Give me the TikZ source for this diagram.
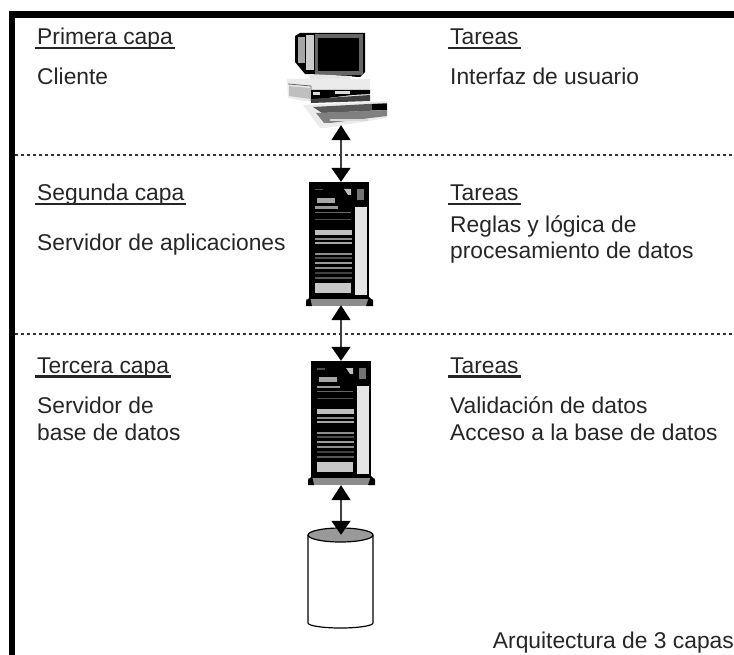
\documentclass[tikz,border=0pt]{standalone}
\usepackage{fontspec}
\setmainfont{Liberation Sans}
\usetikzlibrary{arrows.meta}
\newcommand{\capa}[1]{\setbox0\hbox{#1}\rlap{\kern-2pt\rule[-4.5pt]{\dimexpr\wd0+4pt\relax}{2.2pt}}\box0}
\tikzset{
  txt/.style={anchor=base west,inner sep=0pt,align=left,text=black!85,font=\fontsize{22.8}{26.5}\selectfont},
  sep/.style={line width=1.6pt,dash pattern=on 3pt off 3pt,black!80},
  link/.style={line width=1.6pt,black!75,{Triangle[width=19pt,length=15pt,black]}-{Triangle[width=19pt,length=14pt,black]}},
  pics/tower/.style={code={
    \fill[black] (0,0) rectangle (60,117);
    \fill[black!45] (-3,117) rectangle (64,124);
    \fill[black] (-3,124) -- (-3,119) -- (1,115) -- (3,124) -- cycle;
    \fill[black] (64,124) -- (64,119) -- (60,115) -- (57,124) -- cycle;
    \fill[black!10] (46,25) rectangle (58,113);
    \fill[black!55] (48,7) rectangle (55,18);
    \fill[black!70] (6,7) rectangle (14,8.5);
    \fill[black!25] (35,7) -- (42,7) -- (42,13) -- (39,13) -- cycle;
    \fill[black!35] (8,16) rectangle (26,21);
    \fill[black!40] (6,24.5) rectangle (29,27);
    \foreach \y/\c in {30/60,37/70}{\fill[black!\c] (6,\y) rectangle (42,\y+1);}
    \fill[black!25] (6,48) rectangle (43,53);
    \foreach \y/\c in {56/45,60/35,71/45,75/70,80/40,85/45,90/75,95/65}{\fill[black!\c] (6,\y) rectangle (43,\y+1.6);}
    \fill[black!22] (6,101) rectangle (42,111);
  }}
}
\begin{document}
\begin{tikzpicture}[x=1pt,y=-1pt]
\useasboundingbox (0,0) rectangle (734,655);
\fill[white] (0,0) rectangle (734,655);
% frame
\fill[black] (9,11) rectangle (734,18);
\fill[black] (9,11) rectangle (15,655);
% separators
\coordinate (s1l) at (15,155); \coordinate (s1r) at (734,155);
\coordinate (s2l) at (15,334); \coordinate (s2r) at (734,334);
\draw[sep] (s1l) -- (s1r);
\draw[sep] (s2l) -- (s2r);
% texts
\node[txt] (t1) at (37,45) {\capa{Primera capa}};
\node[txt] (t2) at (37,85) {Cliente};
\node[txt] (t3) at (450,45) {\capa{Tareas}};
\node[txt] (t4) at (450,85) {Interfaz de usuario};
\node[txt] (t5) at (37,201) {\capa{Segunda capa}};
\node[txt] (t6) at (37,251) {Servidor de aplicaciones};
\node[txt] (t7) at (450,201) {\capa{Tareas}};
\node[txt] (t8) at (450,259) {Reglas y lógica de\\procesamiento de datos};
\node[txt] (t9) at (37,373) {\capa{Tercera capa}};
\node[txt] (t10) at (37,440) {Servidor de\\base de datos};
\node[txt] (t11) at (450,373) {\capa{Tareas}};
\node[txt] (t12) at (450,440) {Validación de datos\\Acceso a la base de datos};
\node[txt,anchor=base east] (t13) at (734,648) {Arquitectura de 3 capas};
% computer
\begin{scope}
  \fill[black] (295,36) -- (300,33) -- (365,33) -- (365,72) -- (360,77) -- (305,74) -- (295,62) -- cycle;
  \fill[black!35] (298,37) rectangle (305,63);
  \fill[black!20] (306,35) rectangle (314,70);
  \fill[black!60] (315,34) rectangle (363,75);
  \fill[black] (318,38) rectangle (359,71);
  \fill[black!10] (308,74) -- (352,76) -- (348,82) -- (312,82) -- cycle;
  \fill[black!8] (287,79) -- (370,79) -- (370,101) -- (305,101) -- (288,98) -- cycle;
  \draw[black!60,line width=0.8pt] (288,84) -- (311,86) -- (311,101) ;
  \fill[black!25] (289,86) -- (310,88) -- (310,99) -- (289,96) -- cycle;
  \fill[black] (311,90) -- (370,90) -- (370,94) -- (352,95) -- (311,100) -- cycle;
  \fill[black!15] (313,92) rectangle (320,95);
  \fill[black!15] (335,91) rectangle (350,94);
  \fill[black!75] (311,99) -- (370,95) -- (370,101) -- (311,103) -- cycle;
  \fill[black!8] (303,105) -- (387,101) -- (387,118) -- (325,128) -- (320,128) -- cycle;
  \fill[black!65] (313,107) -- (387,103) -- (387,110) -- (322,113) -- cycle;
  \fill[black!50] (316,113) -- (387,110) -- (387,116) -- (330,123) -- (324,123) -- cycle;
  \fill[black] (372,104) rectangle (387,110);
  \fill[black!15] (330,119) rectangle (368,121);
\end{scope}
\node[inner sep=0pt,minimum size=0pt] (pc) at (341,125) {};
% servers
\pic at (309,182) {tower};
\pic at (311,361) {tower};
\node[inner sep=0pt,minimum size=0pt] (srvAtop) at (341,182) {};
\node[inner sep=0pt,minimum size=0pt] (srvAbot) at (341,305) {};
\node[inner sep=0pt,minimum size=0pt] (srvBtop) at (341,361) {};
\node[inner sep=0pt,minimum size=0pt] (srvBbot) at (341,485) {};
% cylinder
\draw[black,line width=1.2pt,fill=white] (308,535) -- (308,623) arc[start angle=180,end angle=360,x radius=32.5,y radius=-5] -- (373,535);
\draw[black,line width=1.2pt,fill=black!40] (340.5,535) ellipse[x radius=32.5,y radius=7];
\node[inner sep=0pt,minimum size=0pt] (cyl) at (341,535) {};
% connectors
\draw[link] (pc) -- (srvAtop);
\draw[link] (srvAbot) -- (srvBtop);
\draw[link] (srvBbot) -- (cyl);
\end{tikzpicture}
\end{document}
